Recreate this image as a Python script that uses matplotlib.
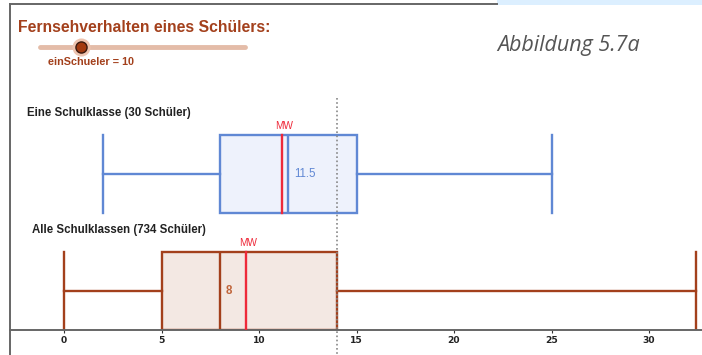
import matplotlib
matplotlib.use("Agg")
import matplotlib.pyplot as plt
from matplotlib.lines import Line2D
from matplotlib.patches import Rectangle

# ---- data ----
groups = ["Eine Schulklasse (30 Schüler)", "Alle Schulklassen (734 Schüler)"]
mins = [2, 0]
q1s = [8, 5]
medians = [11.5, 8]
q3s = [15, 14]
maxs = [25, 32.4]
means = [11.2, 9.35]
median_labels = ["11.5", "8"]
student_value = 14
slider_value = 10
slider_min, slider_max = 0, 50
xticks = [0, 5, 10, 15, 20, 25, 30]

W, H = 702, 355
fig = plt.figure(figsize=(W / 100, H / 100), dpi=100)
fig.patch.set_facecolor("white")

# axes: x pixel 10..702, y pixel 0..330 (from top)
px0 = 64.0
ppu = 19.5
xl = ((10 - px0) / ppu, (W - px0) / ppu)
ax = fig.add_axes([10 / W, (H - 330) / H, (W - 10) / W, 330 / H])
ax.set_xlim(*xl)
ax.set_ylim(330, 0)
ax.set_facecolor("none")
for s in ["top", "right", "left"]:
    ax.spines[s].set_visible(False)
ax.spines["bottom"].set_color("#666666")
ax.spines["bottom"].set_linewidth(1.4)
ax.set_yticks([])
ax.set_xticks(xticks)
ax.set_xticklabels([str(t) for t in xticks], fontsize=6.6, fontweight="bold", color="#222222")
ax.tick_params(axis="x", direction="out", length=2, width=0.8, color="#333333", pad=2)

colors = ["#6088d4", "#a3401c"]
fills = ["#eef2fc", "#f3e8e3"]
ypos = [174, 291]
heights = [78, 78]

stats = []
for i in range(2):
    stats.append(dict(med=medians[i], q1=q1s[i], q3=q3s[i], whislo=mins[i], whishi=maxs[i],
                      fliers=[], label=groups[i]))

for i in range(2):
    c = colors[i]
    ax.bxp([stats[i]], positions=[ypos[i]], widths=heights[i], orientation="horizontal",
           showfliers=False, patch_artist=True, capwidths=heights[i], manage_ticks=False,
           boxprops=dict(facecolor=fills[i], edgecolor=c, linewidth=1.7),
           whiskerprops=dict(color=c, linewidth=1.7),
           capprops=dict(color=c, linewidth=1.7),
           medianprops=dict(color=c, linewidth=1.7))
    # mean line
    ax.plot([means[i], means[i]], [ypos[i] - heights[i] / 2, ypos[i] + heights[i] / 2],
            color="#ee2a3a", lw=1.7, zorder=5)
    ax.text(means[i] + 0.1, ypos[i] - heights[i] / 2 - 4, "MW", color="#ee2a3a",
            fontsize=7.2, ha="center", va="bottom", family="Liberation Sans")
    # group label
    ax.text([-1.9, -1.65][i], ypos[i] - heights[i] / 2 - 22, groups[i], fontsize=8.3,
            fontweight="bold", color="#222222", ha="left", va="center", family="Liberation Sans")

ax.text(medians[0] + 0.3, ypos[0], median_labels[0], color=colors[0], fontsize=8.3,
        ha="left", va="center", family="Liberation Sans")
ax.text(medians[1] + 0.3, ypos[1], median_labels[1], color="#c0643a", fontsize=8.3,
        ha="left", va="center", family="Liberation Sans", fontweight="bold")

# dotted student line
ax.plot([student_value, student_value], [98, 360], color="#888888", lw=1.2,
        linestyle=(0, (1, 1.5)), clip_on=False, zorder=6)

# ---- decorations in figure pixel coords ----
def fx(x):
    return x / W

def fy(y):
    return 1 - y / H

fig.add_artist(Line2D([fx(10), fx(10)], [fy(4), fy(355)], color="#666666", lw=1.4))
fig.add_artist(Line2D([fx(10), fx(497)], [fy(4), fy(4)], color="#666666", lw=1.4))
fig.add_artist(Rectangle((fx(497), fy(5)), fx(W - 497), 5 / H, facecolor="#dcefff",
                         edgecolor="none"))

fig.text(fx(18), fy(27), "Fernsehverhalten eines Schülers:", color="#a3401c", fontsize=11.3,
         fontweight="bold", ha="left", va="center", family="Liberation Sans")
# slider
sx0, sx1, sy = 40, 245, 47
fig.add_artist(Line2D([fx(sx0), fx(sx1)], [fy(sy), fy(sy)], color="#e4bca8", lw=3.5,
                      solid_capstyle="round"))
kx = sx0 + (sx1 - sx0) * (slider_value - slider_min) / (slider_max - slider_min)
fig.add_artist(Line2D([fx(kx)], [fy(sy)], marker="o", markersize=13, color="#eec4b0",
                      markeredgecolor="none"))
fig.add_artist(Line2D([fx(kx)], [fy(sy)], marker="o", markersize=8, color="#a33a10",
                      markeredgecolor="#3a1a10", markeredgewidth=1.0))
fig.text(fx(48), fy(62), f"einSchueler = {slider_value}", color="#a3401c", fontsize=7.8,
         fontweight="bold", ha="left", va="center", family="Liberation Sans")

fig.text(fx(497), fy(45), "Abbildung 5.7a", color="#555555", fontsize=15.5, style="italic",
         ha="left", va="center", family="Open Sans")

fig.savefig("out.png", dpi=100, facecolor="white")
